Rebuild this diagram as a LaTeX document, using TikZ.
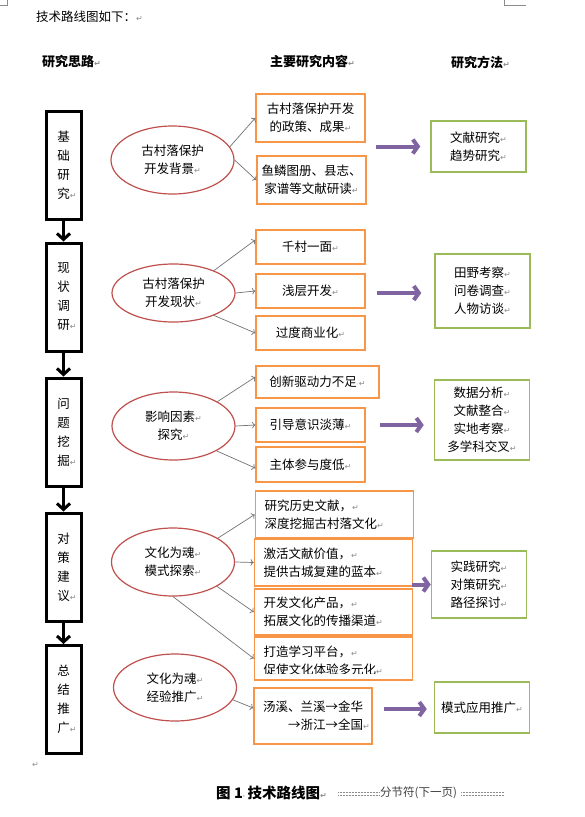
\documentclass[tikz,border=0pt]{standalone}
\usepackage{fontspec}
\setmainfont{Noto Sans CJK SC}
\newfontfamily\dejavu{DejaVu Sans}
\usetikzlibrary{shapes.geometric,arrows.meta}
\definecolor{boxorange}{HTML}{F79646}
\definecolor{ovalred}{HTML}{C0504D}
\definecolor{boxgreen}{HTML}{9BBB59}
\definecolor{arrowpurple}{HTML}{8064A2}
\definecolor{markgray}{HTML}{8C8C8C}
\newcommand\rt{{\dejavu\fontsize{8}{8}\selectfont\textcolor{markgray}{↵}}}
\newcommand\spmark{{\dejavu\fontsize{6}{6}\selectfont\textcolor{markgray}{·}}}

\begin{document}
\begin{tikzpicture}[x=1pt,y=-1pt,inner sep=0pt,
  font=\fontsize{12.5}{18}\selectfont,
  stepbox/.style={draw,line width=3pt,minimum width=35pt,minimum height=108pt,align=center,font=\fontsize{12.5}{19}\selectfont},
  oval/.style={ellipse,draw=ovalred,line width=1.2pt,minimum width=123pt,align=center},
  obox/.style={draw=boxorange,line width=1.5pt,minimum width=109pt,align=center},
  wbox/.style={draw=boxorange,line width=1.5pt,text width=140pt,inner xsep=9pt,align=left},
  gbox/.style={draw=boxgreen,line width=1.5pt,minimum width=95pt,align=center},
  colhead/.style={anchor=west,font=\bfseries\fontsize{13}{18}\selectfont},
  stepdown/.style={->,>={Straight Barb[length=6pt,width=13pt]},line width=3pt},
  feed/.style={->,draw=black!55,line width=0.7pt},
  tomethod/.style={->,>={Straight Barb[length=5pt,width=14pt]},draw=arrowpurple,line width=4pt},
  dotrow/.style={draw=markgray,line width=0.6pt,dash pattern=on 0.6pt off 0.9pt}]
  \fill[white] (0,0) rectangle (585,817);
  \useasboundingbox (0,0) rectangle (585,817);

  % page corners
  \draw[markgray,line width=0.8pt] (0,5) -- (7,5) -- (7,0);
  \draw[markgray,line width=0.8pt] (504,0) -- (504,5) -- (526,5);

  \node[anchor=west] (intro) at (36,17) {技术路线图如下：\rt};
  \node[colhead] (h1) at (42,62) {研究思路\rt};
  \node[colhead] (h2) at (270,62) {主要研究内容\rt};
  \node[colhead] (h3) at (451,63) {研究方法\rt};

  % research steps
  \node[stepbox] (s1) at (63.5,165) {基\\础\\研\\究\rlap{\rt}};
  \node[stepbox] (s2) at (63.5,297) {现\\状\\调\\研\rlap{\rt}};
  \node[stepbox] (s3) at (63.5,432) {问\\题\\挖\\掘\rlap{\rt}};
  \node[stepbox] (s4) at (63.5,567) {对\\策\\建\\议\rlap{\rt}};
  \node[stepbox] (s5) at (63.5,699.5) {总\\结\\推\\广\rlap{\rt}};
  \draw[stepdown] (s1) -- (s2);
  \draw[stepdown] (s2) -- (s3);
  \draw[stepdown] (s3) -- (s4);
  \draw[stepdown] (s4) -- (s5);

  % main contents
  \node[oval,minimum height=68pt] (e1) at (172.5,160) {古村落保护\\开发背景\rt};
  \node[oval,minimum height=58pt] (e2) at (173.5,293) {古村落保护\\开发现状\rt};
  \node[oval,minimum height=68pt] (e3) at (173.5,426) {影响因素\rt\\探究\rt};
  \node[oval,minimum height=68pt] (e4) at (173,562) {文化为魂\rt\\模式探索\rt};
  \node[oval,minimum height=67pt] (e5) at (175,687.5) {文化为魂\rt\\经验推广\rt};

  \node[obox,minimum height=48pt] (c1a) at (310.5,118) {古村落保护开发\\的政策、成果\rt};
  \node[obox,minimum height=48pt] (c1b) at (311.5,180) {鱼鳞图册、县志、\\家谱等文献研读\rt};
  \node[obox,minimum height=34pt] (c2a) at (310.5,247) {千村一面\rt};
  \node[obox,minimum height=34pt] (c2b) at (310.5,291) {浅层开发\rt};
  \node[obox,minimum height=34pt] (c2c) at (310.5,333) {过度商业化\rt};
  \node[obox,minimum width=123pt,minimum height=32pt] (c3a) at (317.5,382) {创新驱动力不足\spmark\rt};
  \node[obox,minimum height=34pt] (c3b) at (310.5,425) {引导意识淡薄\rt};
  \node[obox,minimum height=35pt] (c3c) at (310.5,464.5) {主体参与度低\rt};
  \node[wbox,minimum height=47pt] (c4a) at (334.5,514.5) {研究历史文献，\rt\\深度挖掘古村落文化\rt};
  \node[wbox,minimum height=47pt] (c4b) at (333.5,562.5) {激活文献价值，\rt\\提供古城复建的蓝本\rt};
  \node[wbox,minimum height=46pt] (c4c) at (333.5,612) {开发文化产品，\rt\\拓展文化的传播渠道\rt};
  \node[wbox,minimum height=43pt] (c4d) at (333.5,658.5) {};
  \begin{scope}
    \clip (254,637) rectangle (413,673);
    \node[wbox,draw=none,minimum height=43pt] (c4dtext) at (333.5,661) {打造学习平台，\rt\\促使文化体验多元化\rt};
  \end{scope}
  \node[obox,minimum width=118pt,minimum height=56pt,align=right] (c5) at (313,716) {汤溪、兰溪→金华\\→浙江→全国\rlap{\rt}};

  \draw[feed] (e1.13) -- (c1a.west);
  \draw[feed] (e1.east) -- (c1b.west);
  \draw[feed] (e2.29) -- ([yshift=7pt]c2a.west);
  \draw[feed] (e2.east) -- (c2b.west);
  \draw[feed] (e2.-29) -- (c2c.west);
  \draw[feed] (e3.29) -- ([yshift=5pt]c3a.west);
  \draw[feed] (e3.east) -- (c3b.west);
  \draw[feed] (e3.-30) -- ([yshift=-3.5pt]c3c.west);
  \draw[feed] (e4.28) -- (c4a.west);
  \draw[feed] (e4.east) -- (c4b.west);
  \draw[feed] (e4.-29) -- (c4c.west);
  \draw[feed] (e4.south) -- (c4d.west);
  \draw[feed] (e5.-12) -- ([yshift=8pt]c5.west);

  % methods
  \node[gbox,minimum height=51pt] (g1) at (478.5,146.5) {文献研究\rt\\趋势研究\rt};
  \node[gbox,minimum height=74pt] (g2) at (482.5,291) {田野考察\rt\\问卷调查\rt\\人物访谈\rt};
  \node[gbox,minimum height=80pt] (g3) at (482,420) {数据分析\rt\\文献整合\rt\\实地考察\rt\\多学科交叉\rt};
  \node[gbox,minimum height=67pt] (g4) at (479,584.5) {实践研究\rt\\对策研究\rt\\路径探讨\rt};
  \node[gbox,minimum height=51pt] (g5) at (482,707.5) {模式应用推广\rt};

  \draw[tomethod] ([xshift=-54pt]g1.west) -- ([xshift=-10pt]g1.west);
  \draw[tomethod] ([xshift=-57pt,yshift=-2pt]g2.west) -- ([xshift=-13pt,yshift=-2pt]g2.west);
  \draw[tomethod] ([xshift=-54pt,yshift=-5pt]g3.west) -- ([xshift=-10pt,yshift=-5pt]g3.west);
  \draw[tomethod] ([xshift=-19pt]g4.west) -- (g4.west);
  \draw[tomethod] ([xshift=-50pt,yshift=-1.5pt]g5.west) -- ([xshift=-7pt,yshift=-1.5pt]g5.west);

  % caption line
  \node[anchor=west] (endmark) at (32,765) {\rt};
  \node[anchor=west] (cap) at (216,793) {\fontsize{14.5}{16}\selectfont\bfseries 图 1\spmark\,技术路线图\rt};
  \draw[dotrow] (338,792) -- (379,792);
  \draw[dotrow] (338,795) -- (379,795);
  \node[anchor=west] (sect) at (380,793) {\fontsize{11.5}{12}\selectfont\color{black!75}分节符(下一页)};
  \draw[dotrow] (461,792) -- (504,792);
  \draw[dotrow] (461,795) -- (504,795);
\end{tikzpicture}
\end{document}
